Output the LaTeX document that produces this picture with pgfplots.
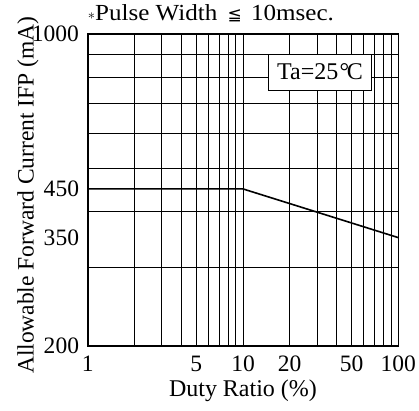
\documentclass[border=0pt]{standalone}
\usepackage{fontspec}
\setmainfont{Liberation Serif}
\newfontfamily\titlefont{Liberation Serif}[FakeStretch=1.09]
\newfontfamily\dejavu{DejaVu Sans}
\usepackage{pgfplots}
\pgfplotsset{compat=1.18}
\begin{document}
\fontsize{23}{26}\selectfont
\begin{tikzpicture}
\begin{axis}[
  scale only axis, width=310.6pt, height=311.7pt,
  xmode=log, ymode=log,
  xmin=1, xmax=100, ymin=200, ymax=1000,
  xtick={1,5,10,20,50,100}, xticklabels={1,5,10,20,50,100},
  minor xtick={2,3,4,6,7,8,9,30,40,60,70,80,90},
  ytick={200,350,450,1000}, yticklabels={200,350,450,1000},
  minor ytick={300,400,500,600,700,800,900},
  xmajorgrids=true, xminorgrids=true, ymajorgrids=false, yminorgrids=true,
  major grid style={black, line width=0.8pt},
  minor grid style={black, line width=0.8pt},
  axis line style={line width=1.6pt},
  major tick length=0pt, minor tick length=0pt,
  ticklabel style={font=\fontsize{23.5}{25}\selectfont, inner sep=0pt},
  xticklabel style={anchor=base, yshift=-25.5pt},
  yticklabel style={anchor=east, xshift=-8.5pt},
  xlabel={Duty Ratio (\%)},
  ylabel={Allowable Forward Current IFP (mA)},
  every axis x label/.style={at={(axis description cs:0.5,-0.163)}, anchor=base, font=\fontsize{24}{27}\selectfont},
  every axis y label/.style={at={(axis description cs:-0.192,0.484)}, anchor=center, rotate=90, font=\fontsize{23.5}{27}\selectfont},
]
\addplot[black, line width=1.6pt] coordinates {(1,450) (10,450) (100,350)};
\node[draw=black, fill=white, line width=0.8pt, minimum width=103.4pt, minimum height=36pt, inner sep=0pt, font=\fontsize{24}{26}\selectfont]
  at (axis description cs:0.748,0.879) {Ta=25\kern0.05em\textdegree\kern-0.1em C};
\end{axis}
\node[anchor=base west, inner sep=0pt, font=\titlefont\fontsize{23}{26}\selectfont]
  at ([yshift=13.3pt]current axis.north west)
  {\raisebox{0.12ex}{\fontsize{14}{14}\selectfont$\ast$}Pulse Width\hspace{0.45em}{\dejavu\fontsize{17}{20}\selectfont ≦}\hspace{0.4em}10msec.};
\pgfresetboundingbox
\path ([xshift=-87.7pt,yshift=-64pt]current axis.south west) rectangle ([xshift=20.7pt,yshift=34.3pt]current axis.north east);
\end{tikzpicture}
\end{document}
